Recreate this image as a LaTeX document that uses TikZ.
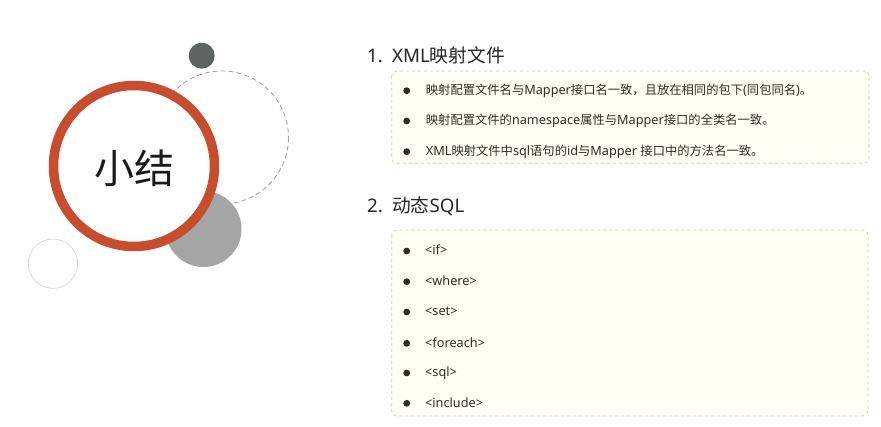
\documentclass[tikz,border=0pt]{standalone}
\usepackage{fontspec}
\setmainfont{Noto Sans}
\newfontfamily\cjkf{Noto Sans CJK SC}
\newfontfamily\latf{Noto Sans}
\newcommand\zh[1]{{\cjkf #1}}
\newcommand\zs[1]{{\cjkf\fontsize{12.3}{14}\selectfont #1}}
\definecolor{ringred}{RGB}{200,76,46}
\definecolor{darkdot}{RGB}{95,99,98}
\definecolor{midgray}{RGB}{165,165,165}
\definecolor{boxfill}{RGB}{254,254,242}
\definecolor{boxline}{RGB}{200,200,195}
\definecolor{txt}{RGB}{45,45,40}
\tikzset{
  itembox/.style={draw=boxline, dashed, fill=boxfill, rounded corners=5pt, line width=0.7pt},
  bulletdot/.style={circle, fill=txt, inner sep=0pt, minimum size=6.8pt},
  itemtext/.style={anchor=west, inner sep=0pt, text height=8.5pt, text depth=0.5pt, text=txt, font=\latf\fontsize{12.7}{14}\selectfont},
  heading/.style={anchor=base west, inner sep=0pt, text=black!85, font=\latf\fontsize{18.7}{21}\selectfont}
}
\begin{document}
\begin{tikzpicture}[x=1pt,y=-1pt]
\useasboundingbox[fill=white] (0,0) rectangle (881,427);
% decorative circles
\draw[gray!75, line width=0.8pt, dash pattern=on 5pt off 3pt] (222,137.5) circle[radius=66.5];
\fill[midgray] (203.5,229) circle[radius=38];
\fill[darkdot] (201.7,55.7) circle[radius=13];
\draw[gray!35, line width=0.6pt] (53,263.7) circle[radius=24.7];
\fill[white] (134,166) circle[radius=80];
\draw[ringred, line width=9.5pt] (134,166) circle[radius=80.5];
\node[font=\cjkf\fontsize{40}{44}\selectfont, text=black!90] (title) at (134,168) {小结};
% section 1
\node[heading] (h1) at (367,63) {1.\hspace{0.5em}XML\zh{映射文件}};
\draw[itembox] (391.7,71) rectangle (869,163.3);
\node[bulletdot] (b11) at (406.7,90.7) {};
\node[bulletdot] (b12) at (406.7,121) {};
\node[bulletdot] (b13) at (406.7,151.7) {};
\node[itemtext] (t11) at (425.7,90.7) {\zs{映射配置文件名与}Mapper\zs{接口名一致，且放在相同的包下}(\zs{同包同名})\zs{。}};
\node[itemtext] (t12) at (425.7,121) {\zs{映射配置文件的}namespace\zs{属性与}Mapper\zs{接口的全类名一致。}};
\node[itemtext] (t13) at (425.7,151.7) {XML\zs{映射文件中}sql\zs{语句的}id\zs{与}Mapper \zs{接口中的方法名一致。}};
% section 2
\node[heading] (h2) at (367,212.7) {2.\hspace{0.5em}\zh{动态}SQL};
\draw[itembox] (391.7,230) rectangle (868,416);
\node[bulletdot] (b21) at (406.7,251) {};
\node[bulletdot] (b22) at (406.7,281.7) {};
\node[bulletdot] (b23) at (406.7,312) {};
\node[bulletdot] (b24) at (406.7,343.3) {};
\node[bulletdot] (b25) at (406.7,373) {};
\node[bulletdot] (b26) at (406.7,403.3) {};
\node[itemtext] (t21) at (425,251) {<if>};
\node[itemtext] (t22) at (425,281.7) {<where>};
\node[itemtext] (t23) at (425,312) {<set>};
\node[itemtext] (t24) at (425,343.3) {<foreach>};
\node[itemtext] (t25) at (425,373) {<sql>};
\node[itemtext] (t26) at (425,403.3) {<include>};
\end{tikzpicture}
\end{document}
